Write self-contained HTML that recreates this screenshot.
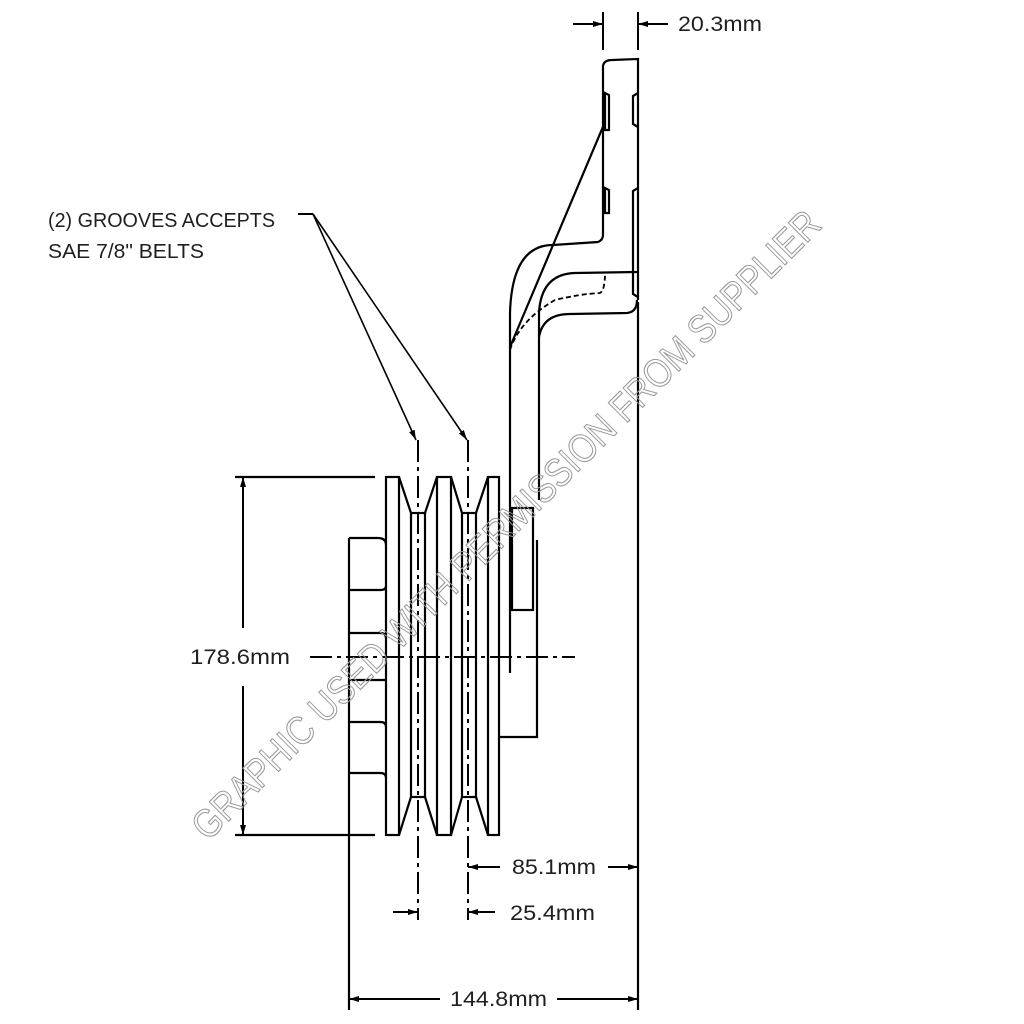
<!DOCTYPE html>
<html><head><meta charset="utf-8"><style>
html,body{margin:0;padding:0;background:#fff;width:1024px;height:1024px;overflow:hidden}
svg{display:block}
text{font-family:"Liberation Sans",sans-serif;fill:#1f1f1f}
</style></head><body>
<svg width="1024" height="1024" viewBox="0 0 1024 1024" xmlns="http://www.w3.org/2000/svg">
<defs>
<marker id="ar" markerWidth="10" markerHeight="6" refX="10" refY="3" orient="auto" markerUnits="userSpaceOnUse"><path d="M0,0 L10,3 L0,6 Z" fill="#000"/></marker>
</defs>
<g stroke="#000" stroke-width="2.2" fill="none">
<path d="M349,538 L349,1010"/>
<path d="M349,538 L378,538 Q386,538 386,545"/>
<path d="M349,590 L380,590 Q386,590 386,586"/>
<path d="M349,633 L380,633 Q386,633 386,638"/>
<path d="M349,680 L386,680"/>
<path d="M349,722 L380,722 Q386,722 386,727"/>
<path d="M349,773 L380,773 Q386,773 386,778"/>
<path d="M375,477 L235,477 M375,835 L235,835"/>
<rect x="386" y="477" width="13" height="358"/>
<rect x="437" y="477" width="14" height="358"/>
<rect x="488" y="477" width="11" height="358"/>
<rect x="411" y="513" width="14" height="284"/>
<rect x="462" y="513" width="14" height="284"/>
<path d="M399,477 L411,513 M425,513 L437,477 M451,477 L462,513 M476,513 L488,477"/>
<path d="M399,835 L411,797 M425,797 L437,835 M451,835 L462,797 M476,797 L488,835"/>
<rect x="512" y="508" width="21" height="102"/>
<path d="M510,313 L510,673"/>
<path d="M539,313 L539,500 M537,540 L537,737 L500,737"/>
<path d="M510,313 Q512,245 553,245 L598,242 Q603,240 603,235"/>
<path d="M539,313 Q541,274 575,273 L638,272"/>
<path d="M539,337 Q543,314 570,314 L627,313 Q637,312 637,300"/>
<path d="M603,235 L603,66 Q604,60 612,60 L638,59 L638,300"/>
<path d="M638,302 L638,1010"/>
<path d="M605,93 L605,130 L609,130 L609,95 Z M605,188 L605,213 L609,213 L609,190 Z"/>
<path d="M638,93 L633,96 L633,124 L638,127 M638,188 L633,191 L633,294 L638,297"/>
<path d="M510,347 L605,122"/>
</g>
<path d="M510,350 Q520,320 555,300 Q580,294 600,293 Q605,290 605,273" stroke="#000" stroke-width="1.8" fill="none" stroke-dasharray="5,3"/>
<path d="M310,657 L575,657" stroke="#000" stroke-width="2" stroke-dasharray="22,5,4,5"/>
<path d="M418,440 L418,920 M468,440 L468,920" stroke="#000" stroke-width="2" stroke-dasharray="22,5,4,5"/>
<g stroke="#000" stroke-width="2" fill="none">
<path d="M603,12 L603,50 M638,12 L638,50"/>
<path d="M573,24 L603,24" marker-end="url(#ar)"/>
<path d="M668,24 L638,24" marker-end="url(#ar)"/>
<path d="M243,628 L243,477" marker-end="url(#ar)"/>
<path d="M243,686 L243,835" marker-end="url(#ar)"/>
<path d="M500,867 L468,867" marker-end="url(#ar)"/>
<path d="M608,867 L638,867" marker-end="url(#ar)"/>
<path d="M393,912 L418,912" marker-end="url(#ar)"/>
<path d="M495,912 L468,912" marker-end="url(#ar)"/>
<path d="M440,999 L349,999" marker-end="url(#ar)"/>
<path d="M557,999 L638,999" marker-end="url(#ar)"/>
<path d="M298,214 L313,214"/>
<path d="M313,214 L416,440" marker-end="url(#ar)" stroke-width="1.6"/>
<path d="M313,214 L467,440" marker-end="url(#ar)" stroke-width="1.6"/>
</g>
<text x="678" y="31" font-size="21" textLength="84" lengthAdjust="spacingAndGlyphs">20.3mm</text>
<text x="190" y="664" font-size="21" textLength="100" lengthAdjust="spacingAndGlyphs">178.6mm</text>
<text x="512" y="874" font-size="21" textLength="84" lengthAdjust="spacingAndGlyphs">85.1mm</text>
<text x="510" y="920" font-size="21" textLength="85" lengthAdjust="spacingAndGlyphs">25.4mm</text>
<text x="450" y="1006" font-size="21" textLength="97" lengthAdjust="spacingAndGlyphs">144.8mm</text>
<text x="48" y="227" font-size="20" textLength="227" lengthAdjust="spacingAndGlyphs">(2) GROOVES ACCEPTS</text>
<text x="48" y="258" font-size="20" textLength="156" lengthAdjust="spacingAndGlyphs">SAE 7/8" BELTS</text>
<text x="0" y="0" font-size="40" transform="translate(208,842) rotate(-45)" style="fill:none;stroke:#9a9a9a;stroke-width:1.1" textLength="870" lengthAdjust="spacingAndGlyphs">GRAPHIC USED WITH PERMISSION FROM SUPPLIER</text>
</svg>
</body></html>
